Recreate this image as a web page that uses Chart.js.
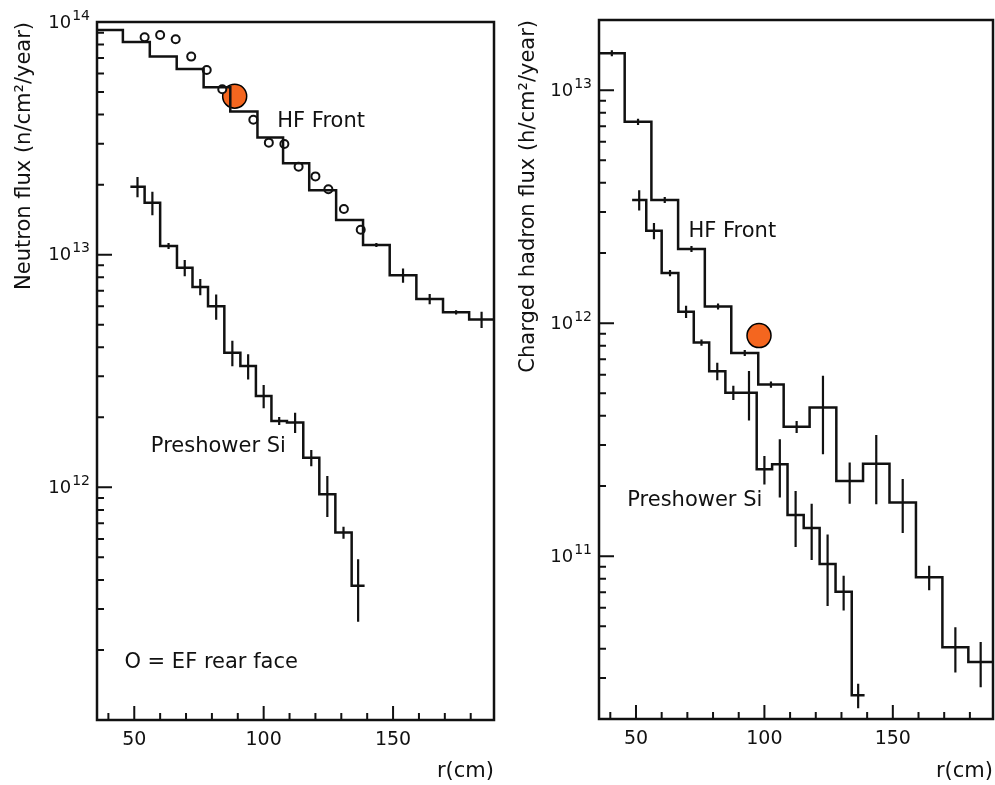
<!DOCTYPE html>
<html>
<head>
<meta charset="utf-8">
<script src="https://cdn.jsdelivr.net/npm/chart.js@4.4.0/dist/chart.umd.min.js"></script>
<style>
  body { margin: 0; background: #fff; }
  #wrap { position: relative; width: 995px; height: 785px; }
  #left { position: absolute; left: 0; top: 0; }
  #right { position: absolute; left: 500px; top: 0; }
</style>
</head>
<body>
<div id="wrap">
  <canvas id="left" width="500" height="785"></canvas>
  <canvas id="right" width="495" height="785"></canvas>
</div>
<script>
// r axis (cm)
const rMin = 35.6, rMax = 189;
const xTicks = [50, 100, 150];
const xMinorTicks = [40, 60, 70, 80, 90, 110, 120, 130, 140, 160, 170, 180];

// bin edges (cm)
const hfEdges = [35.6, 45.6, 56, 66.4, 76.8, 87.1, 97.6, 107.5, 117.6, 128, 138.4, 148.7, 159, 169.3, 179.4, 189];
const psEdges = [48.5, 54, 60, 66.5, 72.5, 78.5, 84.8, 91, 97, 103, 109, 115.3, 121.5, 127.7, 134, 139];

// neutron flux (n/cm2/year)
const neutronHF = [9.25e13, 8.2e13, 7.1e13, 6.28e13, 5.24e13, 4.12e13, 3.19e13, 2.47e13, 1.89e13, 1.41e13, 1.10e13, 8.15e12, 6.45e12, 5.65e12, 5.26e12];
const neutronHFErr = [0, 0, 0, 0, 0, 0, 0, 0, 0, 0, 0.02, 0.07, 0.05, 0.02, 0.08];
const neutronPS = [1.96e13, 1.67e13, 1.09e13, 8.78e12, 7.27e12, 6.0e12, 3.79e12, 3.32e12, 2.47e12, 1.93e12, 1.90e12, 1.34e12, 9.33e11, 6.39e11, 3.78e11];
const neutronPSErr = [0.10, 0.115, 0.03, 0.08, 0.08, 0.125, 0.125, 0.125, 0.115, 0.04, 0.10, 0.08, 0.20, 0.06, 0.30];
const efRearR = [54, 60, 66, 72, 78, 84, 96, 102, 108, 113.5, 120, 125, 131, 137.5];
const efRearFlux = [8.6e13, 8.8e13, 8.43e13, 7.1e13, 6.22e13, 5.14e13, 3.8e13, 3.03e13, 2.99e13, 2.39e13, 2.17e13, 1.91e13, 1.57e13, 1.28e13];
const neutronMarkR = [88.8];
const neutronMarkFlux = [4.8e13];
const neutronYTicks = [1e12, 1e13, 1e14];

// charged hadron flux (h/cm2/year)
const hadronHF = [1.44e13, 7.31e12, 3.38e12, 2.08e12, 1.18e12, 7.45e11, 5.45e11, 3.59e11, 4.34e11, 2.10e11, 2.49e11, 1.70e11, 8.11e10, 4.06e10, 3.51e10];
const hadronHFErr = [0.03, 0.03, 0.03, 0.03, 0.03, 0.03, 0.03, 0.06, 0.37, 0.20, 0.33, 0.26, 0.12, 0.22, 0.22];
const hadronPS = [3.38e12, 2.49e12, 1.64e12, 1.12e12, 8.25e11, 6.22e11, 5.03e11, 5.03e11, 2.36e11, 2.48e11, 1.50e11, 1.32e11, 9.25e10, 7.04e10, 2.53e10];
const hadronPSErr = [0.10, 0.08, 0.03, 0.06, 0.03, 0.086, 0.07, 0.24, 0.14, 0.28, 0.27, 0.27, 0.34, 0.17, 0.12];
const hadronMarkR = [97.9];
const hadronMarkFlux = [8.84e11];
const hadronYTicks = [1e11, 1e12, 1e13];

const FONT = "'DejaVu Sans', sans-serif";
const INK = '#111';

function stepPoints(edges, vals) {
    const pts = vals.map((v, i) => ({ x: edges[i], y: v }));
    pts.push({ x: edges[edges.length - 1], y: vals[vals.length - 1] });
    return pts;
}

function errPoints(edges, vals, errs) {
    const pts = [];
    vals.forEach((v, i) => {
        if (!errs[i]) return;
        const c = (edges[i] + edges[i + 1]) / 2;
        pts.push({ x: c, y: v * (1 - errs[i]) }, { x: c, y: v * (1 + errs[i]) }, { x: c, y: null });
    });
    return pts;
}

function histSet(edges, vals) {
    return { data: stepPoints(edges, vals), stepped: true, borderColor: INK, borderWidth: 2.5, pointRadius: 0, fill: false };
}

function errSet(edges, vals, errs) {
    return { data: errPoints(edges, vals, errs), borderColor: INK, borderWidth: 2.2, pointRadius: 0, fill: false, spanGaps: false };
}

function markSet(rs, fs) {
    return {
        data: rs.map((r, i) => ({ x: r, y: fs[i] })), showLine: false,
        pointRadius: 12, pointBackgroundColor: '#f4661f', pointBorderColor: '#000', pointBorderWidth: 1.5
    };
}

// frame, inward ticks, decade labels and text notes
const framePlugin = {
    id: 'frame',
    afterDraw(chart, args, opts) {
        const { ctx, chartArea: a } = chart;
        const x = chart.scales.x, y = chart.scales.y;
        ctx.save();
        ctx.strokeStyle = INK;
        ctx.lineWidth = 2.5;
        ctx.strokeRect(a.left, a.top, a.right - a.left, a.bottom - a.top);

        ctx.lineWidth = 2;
        ctx.beginPath();
        const lo = Math.floor(Math.log10(y.min)), hi = Math.ceil(Math.log10(y.max));
        for (let e = lo; e <= hi; e++) {
            for (let k = 1; k <= 9; k++) {
                const v = k * Math.pow(10, e);
                if (v < y.min * 0.999 || v > y.max * 1.001) continue;
                const py = y.getPixelForValue(v);
                ctx.moveTo(a.left, py);
                ctx.lineTo(a.left + (k === 1 ? 15 : 7), py);
            }
        }
        xTicks.forEach(v => {
            const px = x.getPixelForValue(v);
            ctx.moveTo(px, a.bottom); ctx.lineTo(px, a.bottom - 14);
        });
        xMinorTicks.forEach(v => {
            const px = x.getPixelForValue(v);
            ctx.moveTo(px, a.bottom); ctx.lineTo(px, a.bottom - 7);
        });
        ctx.stroke();

        // decade labels 10^n
        ctx.fillStyle = INK;
        ctx.textBaseline = 'middle';
        opts.yTicks.forEach(v => {
            const py = y.getPixelForValue(v);
            const ex = String(Math.round(Math.log10(v)));
            ctx.font = '14px ' + FONT;
            const ew = ctx.measureText(ex).width;
            const right = a.left - 7;
            ctx.textAlign = 'right';
            ctx.fillText(ex, right, py - 6);
            ctx.font = '18px ' + FONT;
            ctx.fillText('10', right - ew - 1, py + 1);
        });

        // notes
        ctx.font = '21px ' + FONT;
        ctx.textAlign = 'center';
        opts.notes.forEach(n => {
            ctx.fillText(n.text, x.getPixelForValue(n.r), y.getPixelForValue(n.flux));
        });
        ctx.restore();
    }
};

function makeChart(id, datasets, yMin, yMax, yTitle, yTicks, notes, pad, yWidth, xHeight, titlePad) {
    return new Chart(document.getElementById(id), {
        type: 'line',
        data: { datasets },
        options: {
            responsive: false,
            animation: false,
            layout: { padding: pad, autoPadding: false },
            plugins: {
                legend: { display: false },
                tooltip: { enabled: false },
                frame: { yTicks, notes }
            },
            scales: {
                x: {
                    type: 'linear', min: rMin, max: rMax,
                    grid: { display: false, drawTicks: false },
                    border: { display: false },
                    afterBuildTicks: s => { s.ticks = xTicks.map(v => ({ value: v })); },
                    afterFit: s => { s.height = xHeight; },
                    ticks: { font: { family: FONT, size: 19 }, color: INK, padding: 9, maxRotation: 0, autoSkip: false },
                    title: { display: true, text: 'r(cm)', align: 'end', color: INK, font: { family: FONT, size: 21 }, padding: { top: 0, bottom: 1 } }
                },
                y: {
                    type: 'logarithmic', min: yMin, max: yMax,
                    grid: { display: false, drawTicks: false },
                    border: { display: false },
                    ticks: { display: false },
                    afterFit: s => { s.width = yWidth; },
                    title: { display: true, text: yTitle, align: 'end', color: INK, font: { family: FONT, size: 21 }, padding: { top: titlePad, bottom: 0 } }
                }
            }
        },
        plugins: [framePlugin]
    });
}

makeChart('left', [
    histSet(hfEdges, neutronHF),
    errSet(hfEdges, neutronHF, neutronHFErr),
    histSet(psEdges, neutronPS),
    errSet(psEdges, neutronPS, neutronPSErr),
    {
        data: efRearR.map((r, i) => ({ x: r, y: efRearFlux[i] })), showLine: false,
        pointRadius: 4, pointBackgroundColor: '#fff', pointBorderColor: INK, pointBorderWidth: 2
    },
    markSet(neutronMarkR, neutronMarkFlux)
], 1e11, 1e14, 'Neutron flux (n/cm²/year)', neutronYTicks, [
    { text: 'HF Front', r: 122.2, flux: 3.73e13 },
    { text: 'Preshower Si', r: 82.5, flux: 1.5e12 },
    { text: 'O = EF rear face', r: 79.7, flux: 1.76e11 }
], { top: 22, right: 6, left: 0, bottom: 0 }, 97, 65, 12);

makeChart('right', [
    histSet(hfEdges, hadronHF),
    errSet(hfEdges, hadronHF, hadronHFErr),
    histSet(psEdges, hadronPS),
    errSet(psEdges, hadronPS, hadronPSErr),
    markSet(hadronMarkR, hadronMarkFlux)
], 2e10, 2e13, 'Charged hadron flux (h/cm²/year)', hadronYTicks, [
    { text: 'HF Front', r: 87.5, flux: 2.47e12 },
    { text: 'Preshower Si', r: 72.9, flux: 1.74e11 }
], { top: 20, right: 2, left: 0, bottom: 0 }, 99, 66, 16);
</script>
</body>
</html>
